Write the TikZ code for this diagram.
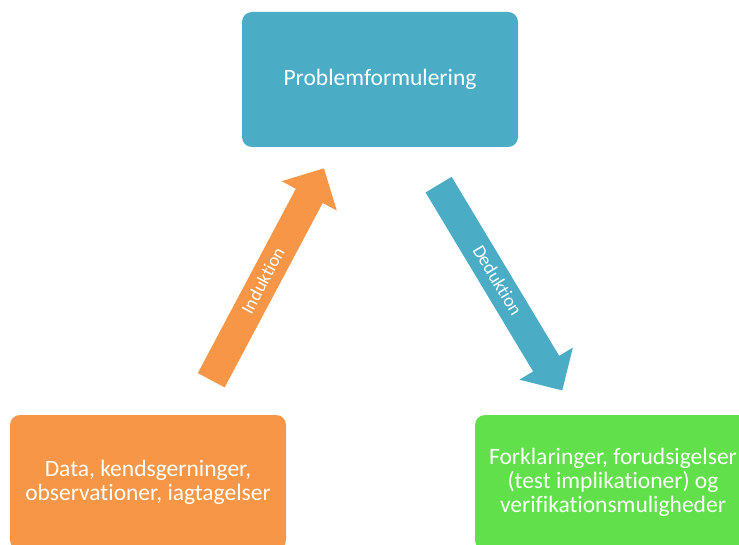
\documentclass[tikz,border=0pt]{standalone}
\usepackage{fontspec}
\setmainfont{Carlito}[Ligatures=NoCommon]
\usetikzlibrary{shapes}
\usetikzlibrary{calc}
\definecolor{probblue}{HTML}{4BACC6}
\definecolor{dataorange}{HTML}{F79646}
\definecolor{testgreen}{RGB}{97,224,75}
\begin{document}
\begin{tikzpicture}[x=1pt,y=1pt]
	\tikzstyle{box}=[rectangle,rounded corners=10pt,minimum width=276pt,minimum height=135pt,text=white,align=center,font=\fontsize{23.5}{24}\selectfont]
	\tikzstyle{flow}=[single arrow,minimum height=240pt,minimum width=62pt,single arrow head extend=16pt,text height=13pt,text depth=3pt,inner xsep=0pt,inner ysep=7pt,text=white,font=\fontsize{18.5}{20}\selectfont]
	\useasboundingbox (0,0) rectangle (739,544);
	\node[box,fill=probblue] (prob) at (380,464.5) {Problemformulering};
	\node[box,fill=dataorange] (data) at (148,61.5) {Data, kendsgerninger,\\observationer, iagtagelser};
	\node[box,fill=testgreen] (test) at (613,61.5) {Forklaringer, forudsigelser\\(test implikationer) og\\verifikationsmuligheder};
	\node[flow,fill=dataorange,rotate=62] (ind) at ($(data)!0.5!(prob)$) {Induktion};
	\node[flow,fill=probblue,rotate=-59] (ded) at ($(prob)!0.5!(test)$) {Deduktion};
\end{tikzpicture}
\end{document}
